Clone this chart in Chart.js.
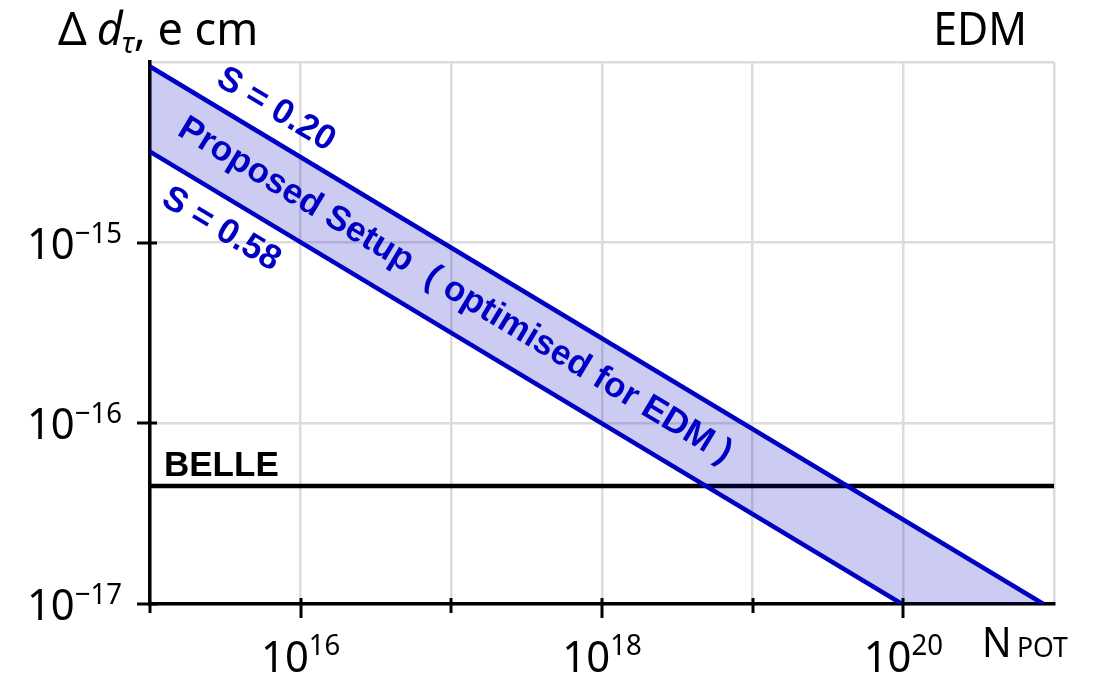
<!DOCTYPE html>
<html><head><meta charset="utf-8">
<script src="https://cdn.jsdelivr.net/npm/chart.js@4"></script>
<style>html,body{margin:0;padding:0;background:#fff;}canvas{display:block}</style>
</head><body>
<canvas id="c" width="1099" height="678"></canvas>
<script>
// ---- data ----
const nUpper = [1e15, 8.5e20];          // S = 0.20 line, N_POT
const dUpper = [9.44e-15, 1.0e-17];     // Δd_τ (e cm)
const nLower = [1e15, 9.8e19];          // S = 0.58 line
const dLower = [3.19e-15, 1.0e-17];
const nBelle = [1e15, 1e21];            // BELLE limit
const dBelle = [4.5e-17, 4.5e-17];
const xTickValues = [1e15, 1e16, 1e17, 1e18, 1e19, 1e20, 1e21];
const xLabelValues = [1e16, 1e18, 1e20];
const yTickValues = [1e-17, 1e-16, 1e-15, 1e-14];
const yLabelValues = [1e-17, 1e-16, 1e-15];
const labelUpper = 'S = 0.20';
const labelLower = 'S = 0.58';
const labelBand = 'Proposed Setup  ( optimised for EDM )';
const labelBelle = 'BELLE';
const titleRight = 'EDM';
const xTitleMain = 'N';
const xTitleSub = 'POT';

const BLUE = '#0000c4';
const SANS = '"Noto Sans", "DejaVu Sans", sans-serif';
const BOLD = 'bold 35px "Liberation Sans", Arial, sans-serif';
const SX = 0.95;

function txt(ctx, s, x, y, font, align, color, sx) {
  ctx.save();
  ctx.font = font;
  ctx.fillStyle = color || '#000';
  ctx.textBaseline = 'alphabetic';
  ctx.translate(x, y);
  ctx.scale(sx || 1, 1);
  ctx.textAlign = align || 'left';
  ctx.fillText(s, 0, 0);
  ctx.restore();
}
function tw(ctx, s, font, sx) { ctx.save(); ctx.font = font; const w = ctx.measureText(s).width * (sx || 1); ctx.restore(); return w; }
function expStr(v) { const e = Math.round(Math.log10(v)); return (e < 0 ? '\u2212' : '') + Math.abs(e); }

const decor = {
  id: 'decor',
  afterDraw(chart) {
    const ctx = chart.ctx, xs = chart.scales.x, ys = chart.scales.y, ca = chart.chartArea;
    const baseFont = '44px ' + SANS, supFont = '29px ' + SANS;
    ctx.save();
    ctx.strokeStyle = '#000'; ctx.lineWidth = 3; ctx.lineCap = 'butt';
    // x tick marks
    xTickValues.forEach(v => {
      const px = Math.round(xs.getPixelForValue(v));
      if (v >= xs.max) return;
      let y0 = ca.bottom - 6, y1 = ca.bottom + 9;
      if (xLabelValues.includes(v)) y1 = ca.bottom + 14;
      if (v <= xs.min) { y0 = ca.bottom; y1 = ca.bottom + 9; }
      ctx.beginPath(); ctx.moveTo(px, y0); ctx.lineTo(px, y1); ctx.stroke();
    });
    // y tick marks
    yLabelValues.forEach(v => {
      const py = Math.round(ys.getPixelForValue(v));
      ctx.beginPath(); ctx.moveTo(ca.left - 13, py); ctx.lineTo(ca.left + 7, py); ctx.stroke();
    });
    ctx.restore();
    // x tick labels
    xLabelValues.forEach(v => {
      const px = xs.getPixelForValue(v);
      const e = expStr(v);
      const wb = tw(ctx, '10', baseFont, SX), ws = tw(ctx, e, supFont, SX);
      const x0 = px - (wb + ws) / 2;
      txt(ctx, '10', x0, ca.bottom + 68, baseFont, 'left', '#000', SX);
      txt(ctx, e, x0 + wb, ca.bottom + 51, supFont, 'left', '#000', SX);
    });
    // y tick labels
    yLabelValues.forEach(v => {
      const py = ys.getPixelForValue(v);
      const e = expStr(v);
      const wb = tw(ctx, '10', baseFont, SX), ws = tw(ctx, e, supFont, SX);
      const right = ca.left - 28;
      txt(ctx, '10', right - ws - wb, py + 16, baseFont, 'left', '#000', SX);
      txt(ctx, e, right - ws, py, supFont, 'left', '#000', SX);
    });
    // titles
    const tFont = '45px ' + SANS, tItal = 'italic 45px ' + SANS, tSub = 'italic 29px ' + SANS;
    let x = 58;
    txt(ctx, '\u0394', x, 45, tFont, 'left', '#000', 1); x += tw(ctx, '\u0394', tFont, 1) + 10;
    txt(ctx, 'd', x, 45, tItal, 'left', '#000', 1); x += tw(ctx, 'd', tItal, 1) - 1;
    txt(ctx, '\u03c4', x, 53, tSub, 'left', '#000', 1); x += tw(ctx, '\u03c4', tSub, 1);
    txt(ctx, ', e cm', x, 45, tFont, 'left', '#000', 1);
    txt(ctx, titleRight, 1027, 45, tFont, 'right', '#000', SX);
    txt(ctx, xTitleMain, 982, 657, '41px ' + SANS, 'left', '#000', SX);
    txt(ctx, xTitleSub, 1017, 657, '28px ' + SANS, 'left', '#000', SX);
    // BELLE label
    txt(ctx, labelBelle, 164, 476, BOLD, 'left', '#000', 1);
    // rotated line labels
    const P = (n, d) => ({ x: xs.getPixelForValue(n), y: ys.getPixelForValue(d) });
    function along(p0, p1, dist, perp, text) {
      const th = Math.atan2(p1.y - p0.y, p1.x - p0.x);
      const c = Math.cos(th), s = Math.sin(th);
      const cx = p0.x + c * dist + s * perp, cy = p0.y + s * dist - c * perp;
      ctx.save();
      ctx.translate(cx, cy); ctx.rotate(th);
      ctx.font = BOLD; ctx.fillStyle = BLUE; ctx.textAlign = 'center'; ctx.textBaseline = 'middle';
      ctx.fillText(text, 0, 0);
      ctx.restore();
    }
    const u0 = P(nUpper[0], dUpper[0]), u1 = P(nUpper[1], dUpper[1]);
    const l0 = P(nLower[0], dLower[0]), l1 = P(nLower[1], dLower[1]);
    along(u0, u1, 130, 28, labelUpper);
    along(l0, l1, 101, -30, labelLower);
    along(u0, u1, 377, -35, labelBand);
  }
};

const lowerData = nLower.map((x, i) => ({ x, y: dLower[i] }));
lowerData.push({ x: nUpper[nUpper.length - 1], y: dLower[dLower.length - 1] });

new Chart(document.getElementById('c'), {
  type: 'line',
  data: {
    datasets: [
      { label: labelUpper, data: nUpper.map((x, i) => ({ x, y: dUpper[i] })), borderColor: BLUE, borderWidth: 4.5,
        pointRadius: 0, tension: 0, fill: '+1', backgroundColor: 'rgba(0,0,190,0.2)' },
      { label: labelLower, data: lowerData, borderColor: BLUE, borderWidth: 4.5, pointRadius: 0, tension: 0, fill: false,
        segment: { borderColor: c => (c.p0DataIndex >= nLower.length - 1 ? 'rgba(0,0,0,0)' : BLUE) } },
      { label: labelBelle, data: nBelle.map((x, i) => ({ x, y: dBelle[i] })), borderColor: '#000', borderWidth: 4.5,
        pointRadius: 0, tension: 0, fill: false }
    ]
  },
  options: {
    responsive: false, animation: false, devicePixelRatio: 1,
    layout: { padding: { left: 150, right: 45, top: 62, bottom: 74 } },
    plugins: { legend: { display: false }, tooltip: { enabled: false } },
    scales: {
      x: { type: 'logarithmic', min: 1e15, max: 1e21,
        afterBuildTicks: a => { a.ticks = xTickValues.map(v => ({ value: v })); },
        ticks: { display: false }, grid: { color: '#dcdcdc', lineWidth: 2.5, drawTicks: false },
        border: { color: '#000', width: 3.5 } },
      y: { type: 'logarithmic', min: 1e-17, max: 1e-14,
        afterBuildTicks: a => { a.ticks = yTickValues.map(v => ({ value: v })); },
        ticks: { display: false }, grid: { color: '#dcdcdc', lineWidth: 2.5, drawTicks: false },
        border: { color: '#000', width: 3.5 } }
    }
  },
  plugins: [decor]
});
</script>
</body></html>
